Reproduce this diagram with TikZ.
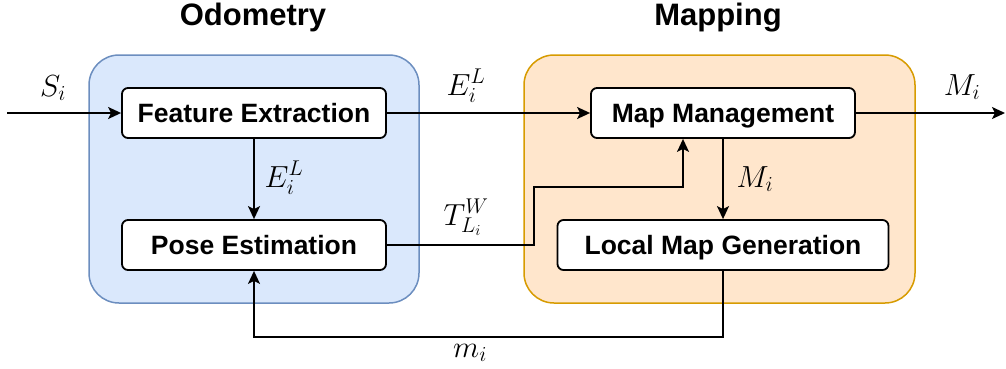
\RequirePackage{fix-cm}
\documentclass[tikz,border=0pt]{standalone}
\usepackage{fontspec}
\setmainfont{Liberation Sans}
\usetikzlibrary{arrows.meta,calc}
\definecolor{odofill}{HTML}{DAE8FC}
\definecolor{ododraw}{HTML}{6C8EBF}
\definecolor{mapfill}{HTML}{FFE6CC}
\definecolor{mapdraw}{HTML}{D79B00}
\tikzset{
  container/.style={rounded corners=30pt, line width=1.5pt},
  stepbox/.style={draw=black, fill=white, line width=1.8pt, rounded corners=6pt,
    minimum height=50pt, inner sep=0pt, text height=18.5pt, text depth=0pt,
    font=\fontsize{26.5}{31}\selectfont\bfseries},
  title/.style={anchor=base, inner sep=0pt, font=\fontsize{31}{37}\selectfont\bfseries},
  lbl/.style={anchor=base, inner sep=0pt, font=\fontsize{30.5}{36}\selectfont},
  arr/.style={line width=1.8pt, -{Stealth[length=13pt,width=12pt,inset=3pt]}},
}
\begin{document}
\begin{tikzpicture}[x=1pt,y=-1pt]
\useasboundingbox (0,0) rectangle (1006,368);
% containers
\draw[container, fill=odofill, draw=ododraw] (89,55) rectangle (419,303);
\draw[container, fill=mapfill, draw=mapdraw] (524,55) rectangle (915,303);
% titles
\node[title] (t1) at (253,25) {Odometry};
\node[title] (t2) at (718,25) {Mapping};
% boxes
\node[stepbox, minimum width=264pt] (fe) at (254,113) {Feature Extraction};
\node[stepbox, minimum width=264pt] (pe) at (254,245) {Pose Estimation};
\node[stepbox, minimum width=264pt] (mm) at (723,113) {Map Management};
\node[stepbox, minimum width=331pt] (lmg) at (723,245) {Local Map Generation};
% free ends
\coordinate (in) at (7,113);
\coordinate (out) at (1005,113);
\coordinate (bend) at (534,187);
% connectors
\draw[arr] (in) -- (fe.west);
\draw[arr] (fe.east) -- (mm.west);
\draw[arr] (mm.east) -- (out);
\draw[arr] (fe.south) -- (pe.north);
\draw[arr] (mm.south) -- (lmg.north);
\draw[arr] (pe.east) -| (bend) -| ([xshift=-40pt]mm.south);
\draw[arr] (lmg.south) -- ++(0,66) -| (pe.south);
% labels
\node[lbl] (ls) at (53,96) {$S_i$};
\node[lbl] (le1) at (466,95) {$E_i^L$};
\node[lbl] (lm1) at (962,95) {$M_i$};
\node[lbl] (le2) at (284,187) {$E_i^L$};
\node[lbl] (lm2) at (755,187) {$M_i$};
\node[lbl] (lt) at (466,225) {$T_{L_i}^W$};
\node[lbl] (lmi) at (470,357) {$m_i$};
\end{tikzpicture}
\end{document}
